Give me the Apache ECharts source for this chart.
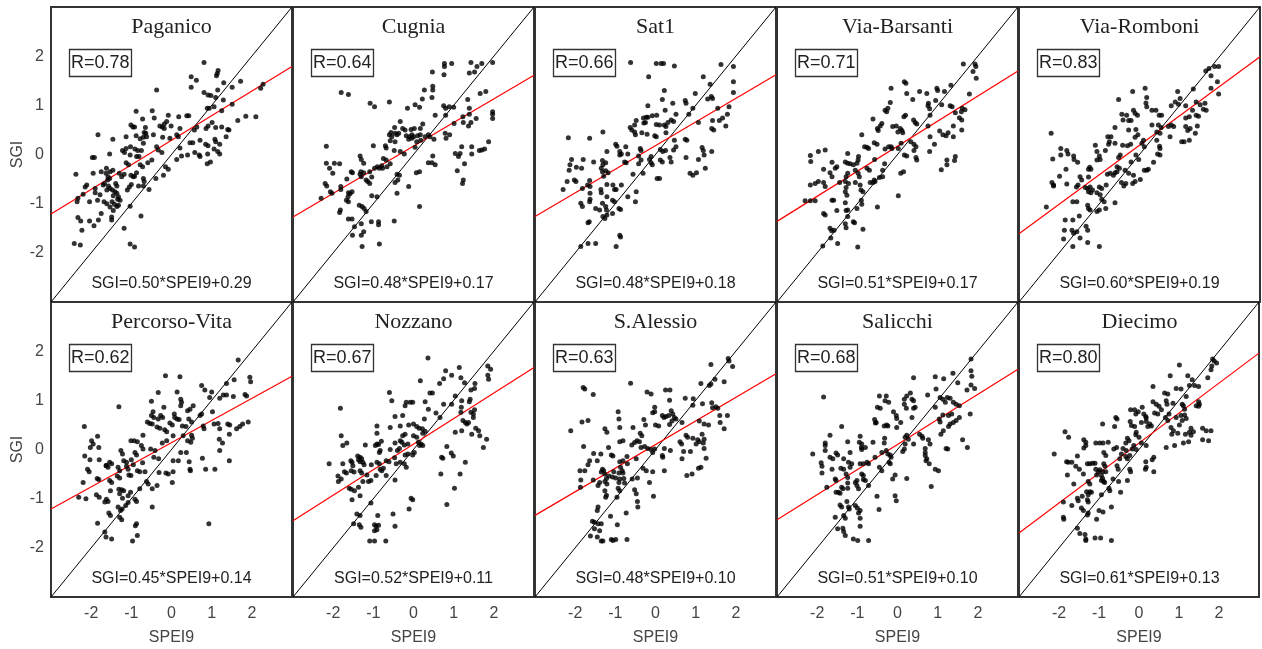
<!DOCTYPE html>
<html>
<head>
<meta charset="utf-8">
<script src="https://cdn.jsdelivr.net/npm/echarts@6/dist/echarts.min.js"></script>
<style>
  html, body { margin: 0; padding: 0; background: #fff; }
  #chart { width: 1262px; height: 649px; }
</style>
</head>
<body>
<div id="chart"></div>
<script>
// station names, correlation and regression coefficients, as printed in each panel
const stations = ['Paganico', 'Cugnia', 'Sat1', 'Via-Barsanti', 'Via-Romboni',
                  'Percorso-Vita', 'Nozzano', 'S.Alessio', 'Salicchi', 'Diecimo'];
const rValues = [0.78, 0.64, 0.66, 0.71, 0.83, 0.62, 0.67, 0.63, 0.68, 0.80];
const slopes = [0.50, 0.48, 0.48, 0.51, 0.60, 0.45, 0.52, 0.48, 0.51, 0.61];
const intercepts = [0.29, 0.17, 0.18, 0.17, 0.19, 0.14, 0.11, 0.10, 0.10, 0.13];

// [SPEI9, SGI] pairs
const paganico = [[0.81,1.87],[1.16,1.71],[1.14,1.65],[1.12,1.60],[0.49,1.58],[0.62,1.51],[1.72,1.49],[1.30,1.46],[2.28,1.43],[2.22,1.35],[0.49,1.37],[1.51,1.37],[-0.37,1.31],[1.15,1.31],[0.81,1.26],[0.91,1.21],[0.98,1.20],[1.10,1.16],[1.29,1.11],[1.51,1.02],[1.06,0.97],[0.94,0.94],[0.89,0.94],[1.25,0.89],[-0.88,0.88],[-0.48,0.89],[-0.08,0.80],[0.38,0.79],[0.43,0.79],[0.18,0.77],[-0.43,0.74],[-0.72,0.72],[1.85,0.78],[2.10,0.77],[1.65,0.69],[-0.12,0.67],[-0.18,0.62],[-0.29,0.58],[-0.23,0.56],[-0.18,0.53],[-1.01,0.60],[-0.96,0.56],[-0.92,0.56],[-0.65,0.55],[-0.68,0.45],[-0.01,0.58],[1.01,0.65],[0.91,0.58],[0.86,0.53],[1.10,0.55],[1.25,0.56],[0.21,0.53],[0.57,0.50],[0.63,0.56],[1.40,0.51],[1.43,0.50],[-1.83,0.40],[-1.13,0.36],[-0.88,0.38],[-0.78,0.32],[-0.64,0.43],[-0.62,0.36],[-0.70,0.35],[-0.45,0.40],[-0.22,0.35],[-0.04,0.33],[0.13,0.40],[0.17,0.36],[1.08,0.31],[1.10,0.26],[1.36,0.36],[-1.46,0.31],[0.71,0.29],[0.46,0.24],[0.53,0.24],[0.85,0.21],[0.91,0.18],[1.20,0.21],[-1.13,0.12],[-1.02,0.16],[-0.91,0.11],[-1.22,0.08],[-1.17,0.04],[-0.84,0.08],[-0.75,0.08],[-0.70,0.23],[-0.37,0.16],[-0.33,0.09],[-0.24,0.04],[0.21,0.13],[0.58,0.04],[0.69,-0.01],[1.06,0.11],[1.15,0.06],[1.20,0.01],[0.90,0.01],[-1.97,-0.06],[-1.92,-0.06],[-1.54,0.01],[-1.03,-0.01],[-0.87,-0.04],[-0.81,-0.04],[-0.49,-0.11],[-0.59,-0.17],[0.13,-0.10],[0.25,-0.03],[0.40,-0.01],[0.71,-0.04],[0.97,-0.15],[0.89,-0.19],[-1.13,-0.17],[-1.07,-0.21],[-0.78,-0.21],[-0.72,-0.25],[-0.15,-0.25],[-0.08,-0.30],[-2.38,-0.40],[-1.95,-0.38],[-1.75,-0.35],[-1.62,-0.28],[-1.63,-0.38],[-1.46,-0.32],[-1.53,-0.35],[-1.30,-0.38],[-1.58,-0.45],[-1.54,-0.49],[-1.59,-0.52],[-1.24,-0.45],[-1.18,-0.40],[-1.01,-0.42],[-0.95,-0.45],[-0.87,-0.37],[-0.92,-0.44],[-0.70,-0.49],[-0.68,-0.55],[-0.20,-0.42],[-0.39,-0.49],[-2.11,-0.62],[-2.15,-0.66],[-1.90,-0.69],[-1.67,-0.59],[-1.70,-0.62],[-1.57,-0.64],[-1.53,-0.69],[-1.47,-0.72],[-1.39,-0.59],[-1.36,-0.64],[-1.61,-0.72],[-1.00,-0.61],[-1.05,-0.66],[-1.10,-0.72],[-0.82,-0.64],[-0.70,-0.64],[-0.56,-0.71],[-1.90,-0.78],[-1.78,-0.82],[-1.41,-0.76],[-1.36,-0.79],[-1.45,-0.84],[-1.32,-0.86],[-1.34,-0.91],[-2.20,-0.81],[-2.33,-0.89],[-2.35,-0.96],[-2.04,-0.96],[-1.84,-0.93],[-1.68,-0.96],[-1.61,-1.00],[-1.48,-0.96],[-1.42,-1.01],[-1.28,-0.93],[-1.32,-1.03],[-1.53,-1.07],[-1.45,-1.14],[-1.36,-1.06],[-1.03,-1.05],[-1.75,-1.20],[-1.49,-1.27],[-1.49,-1.33],[-2.33,-1.28],[-2.26,-1.35],[-2.04,-1.35],[-1.82,-1.33],[-1.93,-1.45],[-2.23,-1.54],[-1.18,-1.50],[-0.76,-1.25],[-2.42,-1.81],[-2.27,-1.84],[-1.03,-1.82],[-0.92,-1.88]];
const cugnia = [[0.77,1.85],[0.95,1.85],[0.77,1.79],[0.76,1.62],[1.43,1.87],[1.58,1.79],[1.70,1.85],[1.97,1.87],[1.39,1.66],[1.52,1.68],[0.47,1.68],[0.48,1.39],[0.48,1.31],[0.27,1.31],[-1.80,1.26],[-1.62,1.22],[1.80,1.28],[1.66,1.24],[0.22,1.13],[0.46,1.16],[-0.60,1.07],[-1.08,1.04],[-0.97,0.97],[1.35,1.12],[0.04,1.01],[0.15,0.96],[-0.15,0.94],[0.75,0.99],[0.80,0.94],[0.89,0.97],[1.00,0.96],[1.39,0.94],[1.97,0.87],[1.97,0.82],[1.97,0.73],[0.54,0.80],[0.80,0.80],[1.23,0.77],[1.39,0.82],[1.56,0.73],[-0.33,0.67],[0.23,0.62],[1.01,0.63],[1.24,0.65],[1.37,0.58],[1.43,0.65],[-0.47,0.55],[-0.27,0.53],[-0.21,0.50],[-0.06,0.51],[0.02,0.53],[0.17,0.53],[-0.56,0.45],[-0.46,0.43],[-0.37,0.43],[-0.60,0.40],[-0.54,0.36],[-0.41,0.40],[-0.18,0.38],[-0.10,0.36],[-0.04,0.40],[0.00,0.36],[0.10,0.38],[0.17,0.40],[0.29,0.36],[0.37,0.40],[0.41,0.36],[0.51,0.31],[0.79,0.43],[0.90,0.40],[0.81,0.33],[-0.12,0.31],[-0.04,0.33],[-0.58,0.28],[-0.46,0.26],[0.08,0.26],[0.18,0.29],[1.87,0.26],[-2.17,0.17],[-1.00,0.18],[-0.70,0.18],[-0.68,0.13],[0.04,0.15],[1.20,0.16],[1.45,0.16],[1.64,0.08],[1.70,0.09],[1.77,0.11],[-1.33,-0.03],[-0.48,0.08],[-0.33,0.06],[1.04,0.02],[1.12,-0.04],[1.16,0.02],[1.45,0.01],[0.48,-0.03],[-1.30,-0.10],[-1.24,-0.18],[-0.75,-0.08],[-0.68,-0.11],[-0.23,0.01],[0.37,-0.17],[0.46,-0.17],[0.54,-0.21],[1.27,-0.19],[-2.17,-0.18],[-1.97,-0.18],[-1.84,-0.19],[-0.79,-0.23],[-0.90,-0.25],[-0.85,-0.28],[-0.77,-0.28],[-0.58,-0.19],[-0.66,-0.25],[-2.09,-0.28],[-2.01,-0.38],[-1.55,-0.35],[-1.52,-0.37],[-1.31,-0.35],[-1.24,-0.37],[-1.09,-0.35],[-0.97,-0.28],[-0.41,-0.40],[-0.35,-0.42],[0.07,-0.37],[0.15,-0.35],[1.09,-0.33],[-1.33,-0.40],[-1.30,-0.45],[-1.18,-0.52],[-1.14,-0.55],[-1.04,-0.46],[-1.09,-0.59],[-1.66,-0.50],[-0.46,-0.57],[-0.39,-0.52],[-2.20,-0.59],[-2.16,-0.64],[-1.81,-0.65],[-2.07,-0.76],[-2.03,-0.79],[-1.62,-0.78],[-1.58,-0.80],[-1.53,-0.76],[-0.12,-0.65],[1.22,-0.59],[1.24,-0.52],[-2.30,-0.89],[-1.81,-0.71],[-1.63,-0.86],[-1.67,-0.93],[-1.62,-0.96],[-1.04,-0.84],[-0.91,-0.86],[-0.41,-0.79],[-1.35,-1.03],[-1.28,-1.06],[-1.23,-1.10],[-1.18,-1.16],[0.15,-1.06],[-1.82,-1.13],[-1.84,-1.18],[-1.62,-1.31],[-1.53,-1.31],[-1.05,-1.37],[-0.87,-1.37],[-0.87,-1.43],[-0.48,-1.35],[-1.47,-1.47],[-1.30,-1.41],[-1.24,-1.57],[-1.52,-1.64],[-1.30,-1.64],[-1.28,-1.87],[-0.85,-1.82]];
const sat1 = [[-0.62,1.87],[0.02,1.85],[0.14,1.85],[0.20,1.85],[0.47,1.80],[1.63,1.83],[1.94,1.79],[-0.17,1.58],[1.19,1.58],[1.94,1.48],[1.36,1.43],[0.22,1.30],[0.99,1.24],[1.94,1.26],[1.30,1.13],[1.39,1.18],[1.42,1.14],[0.17,1.12],[0.43,1.04],[0.74,1.10],[0.76,1.04],[-0.19,0.99],[0.93,0.94],[1.55,0.94],[1.83,0.97],[0.24,0.90],[0.03,0.80],[-0.23,0.76],[-0.30,0.74],[-0.19,0.76],[-0.08,0.79],[0.51,0.82],[0.83,0.82],[1.79,0.82],[1.67,0.74],[1.59,0.69],[-0.48,0.69],[-0.52,0.60],[0.39,0.70],[0.45,0.67],[0.31,0.65],[-0.29,0.64],[-0.25,0.65],[0.02,0.61],[0.10,0.60],[0.22,0.60],[0.26,0.57],[1.07,0.65],[1.42,0.69],[1.40,0.53],[1.45,0.50],[1.75,0.58],[-0.63,0.55],[-0.59,0.50],[-0.52,0.46],[-0.50,0.40],[-0.34,0.44],[-0.21,0.41],[0.02,0.36],[-0.02,0.38],[-2.17,0.34],[-1.64,0.33],[-1.31,0.46],[0.26,0.44],[0.74,0.31],[0.78,0.29],[0.47,0.29],[0.51,0.16],[0.45,0.09],[-0.99,0.21],[-0.96,0.17],[-0.74,0.16],[-0.89,0.06],[-0.85,0.01],[-0.69,0.01],[-0.38,0.12],[-0.36,0.08],[0.12,0.10],[0.18,0.06],[0.25,0.08],[1.16,0.14],[1.19,0.08],[1.40,0.06],[1.21,-0.01],[-1.21,0.06],[-0.42,-0.03],[-0.36,-0.11],[-0.11,-0.04],[-0.15,-0.10],[0.36,-0.06],[0.39,-0.15],[0.76,-0.06],[1.07,-0.10],[-2.09,-0.10],[-1.80,-0.10],[-1.54,-0.15],[-1.32,-0.12],[-1.24,-0.17],[-1.31,-0.21],[-0.89,-0.01],[-0.77,-0.15],[-0.73,-0.17],[0.12,-0.11],[0.17,-0.15],[-2.13,-0.21],[-1.97,-0.26],[-2.15,-0.32],[-1.84,-0.28],[-0.42,-0.19],[-0.11,-0.17],[-0.08,-0.21],[-1.35,-0.28],[-1.32,-0.35],[-1.24,-0.33],[-1.18,-0.37],[-1.29,-0.44],[-0.56,-0.40],[-0.31,-0.38],[0.86,-0.38],[0.93,-0.42],[1.02,-0.37],[1.24,-0.28],[0.04,-0.49],[0.10,-0.49],[-2.20,-0.55],[-2.02,-0.52],[-1.98,-0.55],[-1.64,-0.53],[-1.69,-0.62],[-1.63,-0.65],[-1.21,-0.61],[-1.06,-0.62],[-0.85,-0.62],[-2.30,-0.71],[-1.82,-0.69],[-1.36,-0.71],[-1.35,-0.78],[-1.02,-0.71],[-0.98,-0.71],[-0.48,-0.76],[-0.69,-0.86],[-1.63,-0.79],[-1.63,-0.91],[-1.64,-0.96],[-1.21,-0.86],[-1.86,-0.99],[-1.82,-1.06],[-1.32,-0.99],[-1.24,-1.06],[-1.07,-0.93],[-1.02,-0.96],[-0.91,-1.10],[-0.87,-1.12],[-0.50,-0.96],[-1.49,-1.10],[-1.39,-1.13],[-1.22,-1.13],[-1.31,-1.26],[-1.26,-1.30],[-1.21,-1.23],[-1.07,-1.20],[-1.65,-1.37],[-1.68,-1.39],[-0.89,-1.64],[-0.87,-1.68],[-1.86,-1.87],[-1.68,-1.81],[-1.49,-1.81],[-0.98,-1.87]];
const viaBarsanti = [[1.64,1.84],[1.93,1.84],[1.95,1.79],[1.88,1.69],[1.96,1.55],[0.17,1.48],[0.21,1.45],[0.23,1.24],[0.55,1.28],[-0.16,1.35],[0.98,1.35],[1.00,1.30],[1.33,1.41],[1.17,1.28],[0.73,1.24],[0.77,1.04],[0.76,0.99],[0.80,0.93],[0.81,0.80],[1.79,1.23],[-0.18,1.06],[-0.24,0.94],[-0.31,0.90],[-0.27,0.87],[0.38,1.12],[1.10,1.01],[1.31,0.99],[1.36,0.97],[0.95,1.10],[1.61,0.94],[1.59,0.87],[1.68,0.91],[1.44,0.85],[1.54,0.75],[0.20,0.80],[0.16,0.77],[0.40,0.70],[0.44,0.65],[0.48,0.62],[-0.61,0.72],[-0.39,0.63],[-0.43,0.58],[-0.50,0.53],[-0.48,0.49],[-0.12,0.57],[-0.03,0.58],[0.01,0.46],[0.07,0.53],[0.11,0.49],[0.13,0.44],[1.39,0.58],[0.76,0.58],[1.60,0.70],[1.60,0.50],[1.05,0.48],[1.13,0.40],[1.26,0.44],[1.21,0.38],[1.39,0.36],[-0.89,0.40],[-0.58,0.24],[-0.31,0.11],[-0.22,0.16],[-0.16,0.16],[-0.14,0.12],[-0.82,0.16],[-0.76,0.15],[-0.72,0.12],[-0.51,0.21],[0.02,0.12],[0.09,0.23],[0.33,0.26],[0.41,0.21],[0.46,0.16],[0.81,0.36],[0.92,0.21],[0.80,0.06],[0.41,0.08],[0.46,-0.06],[0.48,-0.11],[0.17,-0.01],[0.23,-0.03],[-2.17,-0.02],[-2.16,-0.14],[-1.97,0.06],[-1.80,0.09],[-1.24,0.02],[-0.97,-0.04],[-0.98,-0.11],[-1.01,-0.18],[-0.57,-0.10],[-1.30,-0.15],[-1.24,-0.18],[-1.18,-0.19],[-1.63,-0.16],[-1.51,-0.25],[-1.55,-0.28],[-1.10,-0.21],[-1.05,-0.32],[-0.76,-0.28],[-0.70,-0.32],[-0.32,-0.19],[-0.37,-0.32],[-1.84,-0.30],[-1.24,-0.38],[-1.28,-0.45],[-1.68,-0.37],[-1.63,-0.45],[-0.98,-0.38],[-0.95,-0.45],[0.15,-0.35],[0.08,-0.38],[-0.45,-0.47],[-0.37,-0.45],[1.09,-0.31],[1.23,-0.21],[1.23,-0.11],[1.44,-0.04],[1.42,-0.12],[-1.44,-0.57],[-1.30,-0.55],[-1.22,-0.59],[-1.28,-0.67],[-1.05,-0.57],[-0.68,-0.57],[-0.61,-0.57],[-0.58,-0.52],[-0.56,-0.55],[-0.93,-0.62],[-2.17,-0.62],[-2.05,-0.59],[-1.97,-0.55],[-1.84,-0.57],[-1.80,-0.65],[-1.30,-0.76],[-1.26,-0.83],[-0.91,-0.72],[-0.86,-0.76],[0.02,-0.84],[-2.30,-0.94],[-2.17,-0.94],[-2.05,-0.94],[-1.63,-0.93],[-1.59,-0.93],[-0.90,-0.93],[-0.89,-1.01],[-1.30,-0.98],[-1.24,-1.13],[-1.28,-1.14],[-1.01,-1.10],[-0.50,-1.07],[-1.84,-1.20],[-1.80,-1.23],[-1.51,-1.14],[-1.24,-1.26],[-1.10,-1.37],[-1.07,-1.39],[-1.30,-1.41],[-1.28,-1.49],[-1.68,-1.50],[-1.64,-1.55],[-1.58,-1.54],[-0.86,-1.52],[-1.66,-1.70],[-1.49,-1.81],[-1.86,-1.86],[-0.99,-1.88]];
const viaRomboni = [[1.65,1.70],[1.73,1.75],[1.87,1.79],[1.97,1.79],[1.78,1.60],[1.94,1.48],[1.34,1.33],[1.78,1.35],[1.97,1.23],[0.14,1.35],[-0.17,1.28],[0.95,1.28],[1.01,1.14],[0.89,1.07],[0.79,0.99],[0.97,1.02],[-0.52,1.12],[0.18,1.16],[0.16,1.05],[0.18,0.97],[-0.15,0.90],[-0.11,0.84],[-0.05,0.80],[-0.44,0.82],[-0.32,0.80],[-0.41,0.70],[-0.27,0.69],[-0.21,0.69],[0.31,0.90],[0.41,0.90],[0.49,0.80],[0.55,0.80],[1.15,0.99],[1.41,1.07],[1.51,1.01],[1.63,1.04],[1.66,0.90],[1.59,0.92],[1.32,0.90],[1.41,0.80],[1.47,0.78],[1.24,0.77],[1.15,0.74],[-0.61,0.55],[-0.09,0.51],[-0.27,0.50],[0.31,0.60],[0.47,0.60],[0.54,0.55],[0.43,0.46],[0.51,0.43],[0.72,0.57],[0.79,0.60],[0.85,0.57],[1.15,0.57],[1.20,0.49],[1.26,0.53],[1.39,0.43],[1.44,0.58],[-2.20,0.43],[0.76,0.36],[-0.79,0.36],[-0.71,0.36],[-0.11,0.35],[-0.04,0.40],[1.05,0.26],[1.11,0.26],[1.24,0.29],[-0.75,0.26],[-0.77,0.21],[-0.61,0.23],[-0.42,0.19],[-0.30,0.18],[-0.22,0.21],[-1.10,0.19],[0.10,0.29],[0.06,0.23],[0.12,0.16],[0.43,0.29],[0.50,0.17],[0.51,0.12],[0.45,0.01],[0.51,-0.01],[-1.96,0.12],[-1.81,0.08],[-1.78,0.01],[-1.96,-0.01],[-2.16,-0.09],[-1.64,-0.03],[-1.63,-0.10],[-1.06,0.06],[-0.85,0.08],[-1.00,-0.03],[-0.98,-0.10],[-1.06,-0.11],[-1.54,-0.16],[-0.48,-0.01],[-0.52,-0.06],[-0.09,-0.01],[-0.02,-0.10],[-0.21,-0.15],[0.35,-0.16],[0.12,-0.32],[0.18,-0.32],[0.22,-0.30],[-1.24,-0.26],[-1.27,-0.30],[-1.21,-0.30],[-0.56,-0.25],[-0.50,-0.28],[-0.56,-0.35],[-0.61,-0.37],[-0.36,-0.32],[-0.27,-0.38],[-1.99,-0.44],[-1.83,-0.30],[-1.48,-0.45],[-1.44,-0.52],[-1.27,-0.46],[-0.80,-0.40],[-0.73,-0.38],[-0.65,-0.42],[-0.15,-0.42],[0.02,-0.51],[-0.11,-0.55],[-0.17,-0.59],[-0.45,-0.57],[-0.34,-0.59],[-0.39,-0.64],[-2.18,-0.57],[-2.14,-0.62],[-2.14,-0.64],[-1.81,-0.60],[-1.57,-0.66],[-1.53,-0.62],[-1.35,-0.67],[-1.29,-0.69],[-1.23,-0.66],[-1.17,-0.72],[-1.27,-0.76],[-1.00,-0.66],[-0.94,-0.69],[-0.83,-0.62],[-1.21,-0.78],[-1.06,-0.78],[-0.98,-0.82],[-0.61,-0.98],[-2.32,-1.07],[-1.66,-0.96],[-1.56,-0.96],[-1.29,-1.03],[-1.27,-1.10],[-1.23,-1.13],[-0.94,-0.91],[-0.88,-0.96],[-0.84,-1.10],[-1.06,-1.16],[-1.00,-1.13],[-1.50,-1.25],[-1.85,-1.33],[-1.66,-1.33],[-1.33,-1.46],[-1.29,-1.54],[-1.87,-1.54],[-1.68,-1.54],[-1.64,-1.60],[-1.56,-1.57],[-1.89,-1.72],[-1.48,-1.70],[-1.66,-1.87],[-1.29,-1.79],[-1.00,-1.87]];
const percorsoVita = [[1.66,1.82],[-0.15,1.50],[0.21,1.48],[1.95,1.47],[1.97,1.38],[1.56,1.42],[1.37,1.34],[0.75,1.30],[0.83,1.21],[1.00,1.17],[-0.33,1.16],[0.14,1.17],[0.23,1.02],[0.25,0.96],[0.23,0.89],[1.29,1.11],[1.37,1.11],[1.54,1.08],[1.83,1.12],[1.87,1.09],[-0.50,0.98],[0.95,1.06],[1.20,1.04],[-1.31,0.87],[-0.19,0.86],[-0.27,0.69],[-0.22,0.65],[0.54,0.89],[0.46,0.82],[0.40,0.79],[0.75,0.72],[0.71,0.69],[1.02,0.77],[-0.46,0.77],[-0.50,0.69],[-0.44,0.65],[0.07,0.72],[0.08,0.65],[-0.33,0.62],[-0.04,0.54],[0.02,0.50],[-0.60,0.56],[-0.54,0.53],[-0.48,0.52],[0.14,0.62],[0.19,0.61],[0.43,0.62],[0.50,0.56],[0.27,0.48],[0.36,0.47],[0.79,0.48],[0.81,0.42],[1.91,0.56],[1.77,0.52],[-0.36,0.46],[-0.29,0.43],[-0.17,0.40],[-0.12,0.36],[1.06,0.52],[1.16,0.53],[1.20,0.42],[1.40,0.52],[1.45,0.50],[1.62,0.42],[1.70,0.47],[-2.17,0.47],[-0.71,0.29],[0.04,0.28],[0.29,0.28],[0.50,0.29],[0.52,0.23],[1.44,0.31],[-1.84,0.27],[-1.99,0.18],[-1.95,0.11],[-1.01,0.18],[-0.93,0.18],[-0.85,0.16],[0.40,0.18],[0.48,0.15],[1.19,0.21],[1.27,0.13],[-0.23,0.13],[-0.12,0.18],[-2.02,0.04],[-1.81,0.04],[-0.75,0.08],[-0.71,0.01],[-0.52,0.01],[-0.41,-0.02],[-1.26,-0.02],[-1.22,-0.09],[-0.91,-0.06],[-0.87,-0.11],[0.23,-0.06],[0.37,-0.06],[1.20,-0.02],[-2.16,-0.13],[-1.80,-0.21],[-2.03,-0.21],[-1.54,-0.26],[-1.49,-0.29],[-1.62,-0.32],[-1.63,-0.33],[-1.58,-0.36],[-1.19,-0.23],[-1.12,-0.26],[-1.00,-0.21],[-0.95,-0.31],[-0.72,-0.27],[-0.44,-0.16],[-0.32,-0.19],[0.04,-0.23],[0.17,-0.23],[0.77,-0.18],[0.44,-0.25],[1.44,-0.23],[-2.09,-0.40],[-2.05,-0.45],[-1.33,-0.36],[-1.29,-0.43],[-1.12,-0.34],[-1.08,-0.40],[-0.85,-0.43],[-0.79,-0.45],[-0.66,-0.45],[-0.31,-0.47],[-0.14,-0.48],[-0.08,-0.50],[0.04,-0.45],[0.46,-0.40],[0.47,-0.43],[1.08,-0.40],[-1.06,-0.52],[-1.01,-0.53],[-1.35,-0.54],[-1.29,-0.58],[-1.85,-0.59],[-1.81,-0.61],[-1.54,-0.63],[-1.49,-0.67],[-2.20,-0.67],[-0.62,-0.65],[-0.58,-0.70],[-0.36,-0.73],[-0.48,-0.80],[0.02,-0.67],[-1.31,-0.81],[-1.24,-0.82],[-1.19,-0.84],[-1.52,-0.84],[-0.79,-0.80],[-1.02,-0.87],[-1.08,-0.94],[-1.87,-0.92],[-1.80,-0.97],[-2.31,-0.97],[-2.13,-1.00],[-1.62,-1.01],[-1.58,-1.06],[-1.66,-1.07],[-1.29,-0.90],[-1.22,-0.99],[-0.91,-1.01],[-0.87,-1.06],[-1.08,-1.08],[-1.33,-1.17],[-1.27,-1.24],[-1.23,-1.21],[-1.14,-1.14],[-0.48,-1.17],[-1.56,-1.29],[-1.52,-1.34],[-1.29,-1.38],[-1.24,-1.43],[0.85,-0.40],[-1.84,-1.50],[-0.87,-1.51],[-0.90,-1.55],[0.93,-1.51],[-1.66,-1.68],[-1.63,-1.78],[-1.49,-1.82],[-0.97,-1.86],[-0.85,-1.75]];
const nozzano = [[0.36,1.86],[1.85,1.70],[1.92,1.63],[1.85,1.51],[1.87,1.43],[0.80,1.60],[0.95,1.51],[1.14,1.67],[1.18,1.46],[0.75,1.44],[0.65,1.34],[0.17,1.40],[1.27,1.36],[1.53,1.34],[1.52,1.24],[-0.60,1.16],[-0.54,0.99],[0.41,1.15],[0.47,1.15],[1.04,1.09],[1.43,1.21],[1.41,1.02],[1.39,0.97],[-1.82,0.84],[-0.21,0.89],[-0.18,0.96],[-0.08,0.96],[-0.02,0.96],[0.29,0.97],[1.20,0.99],[0.75,0.92],[0.95,0.92],[0.37,0.82],[0.56,0.74],[1.19,0.86],[1.18,0.76],[1.43,0.76],[1.49,0.72],[1.52,0.81],[-0.46,0.67],[-0.27,0.69],[0.27,0.62],[0.66,0.65],[1.23,0.59],[1.29,0.55],[1.33,0.52],[1.37,0.55],[1.49,0.65],[-0.91,0.48],[-0.91,0.33],[-0.58,0.45],[-0.33,0.48],[-0.12,0.50],[0.00,0.52],[0.08,0.47],[0.14,0.43],[0.22,0.42],[0.29,0.37],[0.23,0.33],[1.04,0.35],[1.20,0.38],[1.55,0.43],[1.62,0.38],[1.65,0.28],[1.45,0.31],[1.82,0.21],[1.74,0.04],[-1.80,0.28],[-1.76,0.08],[-1.66,0.13],[-0.80,0.17],[-0.87,0.10],[-0.27,0.28],[-0.21,0.31],[-0.33,0.18],[-0.29,0.15],[-0.46,0.13],[0.00,0.28],[0.08,0.25],[0.12,0.15],[0.19,0.11],[0.15,0.08],[0.23,0.08],[-1.20,0.09],[-0.95,0.08],[-0.91,0.11],[-0.58,0.00],[-0.40,-0.02],[-0.35,0.02],[-0.23,0.09],[-0.14,0.11],[0.83,0.06],[-0.83,-0.02],[-0.85,-0.06],[0.02,-0.06],[-0.02,-0.11],[-1.39,-0.13],[-1.33,-0.16],[-1.29,-0.19],[-0.21,-0.11],[-0.14,-0.09],[0.70,-0.16],[0.73,-0.18],[0.94,-0.07],[0.99,-0.13],[-2.10,-0.29],[-1.76,-0.29],[-1.56,-0.23],[-1.53,-0.26],[-1.51,-0.33],[-1.37,-0.21],[-1.33,-0.25],[-1.26,-0.26],[-1.23,-0.31],[-1.05,-0.31],[-0.91,-0.26],[-0.85,-0.29],[-0.68,-0.23],[-0.61,-0.25],[-0.47,-0.17],[-0.43,-0.29],[-0.33,-0.26],[-0.23,-0.29],[-0.18,-0.36],[1.29,-0.26],[-1.55,-0.43],[-1.48,-0.46],[-1.33,-0.43],[-1.29,-0.48],[-1.72,-0.45],[-1.67,-0.48],[-1.16,-0.52],[-0.83,-0.40],[-0.79,-0.43],[-0.75,-0.38],[-0.93,-0.53],[-1.88,-0.54],[-1.80,-0.60],[-1.87,-0.65],[-1.26,-0.65],[-1.12,-0.65],[-1.06,-0.63],[-0.68,-0.53],[-0.46,-0.62],[0.68,-0.50],[1.16,-0.50],[-1.60,-0.79],[-1.55,-0.81],[-1.47,-0.84],[-1.37,-0.77],[1.02,-0.79],[-1.53,-1.02],[-1.33,-0.94],[-0.06,-0.99],[-0.02,-1.02],[-0.11,-1.21],[-1.06,-1.09],[0.83,-1.12],[-1.41,-1.31],[-1.33,-1.34],[-0.89,-1.34],[-0.51,-1.31],[-1.49,-1.51],[-1.35,-1.53],[-1.31,-1.58],[-0.97,-1.53],[-0.93,-1.56],[-0.87,-1.54],[-0.46,-1.56],[-0.97,-1.65],[-0.91,-1.63],[-1.09,-1.86],[-0.97,-1.86],[-0.69,-1.86]];
const sAlessio = [[1.81,1.85],[1.83,1.80],[1.92,1.69],[1.38,1.73],[1.48,1.43],[1.38,1.33],[1.34,1.30],[1.71,1.38],[1.13,1.34],[-1.80,1.26],[-1.76,1.23],[-0.62,1.35],[-1.55,1.12],[-0.21,1.17],[-0.11,1.13],[0.25,1.21],[0.36,1.21],[0.35,1.00],[0.74,1.04],[0.94,1.03],[0.93,0.90],[1.17,0.93],[1.40,0.95],[1.42,0.85],[1.50,0.87],[1.55,0.84],[-0.02,0.86],[-0.02,0.77],[-0.07,0.75],[0.39,0.79],[0.43,0.72],[-0.93,0.77],[-0.91,0.62],[0.17,0.69],[0.21,0.65],[0.26,0.67],[0.33,0.69],[0.47,0.65],[0.51,0.62],[0.41,0.58],[0.35,0.51],[-1.83,0.56],[-1.68,0.59],[-0.29,0.61],[-0.25,0.50],[0.00,0.50],[0.08,0.48],[0.66,0.55],[1.09,0.58],[1.21,0.52],[1.32,0.50],[1.61,0.55],[1.79,0.69],[1.60,0.69],[1.71,0.42],[-2.11,0.38],[-1.26,0.42],[-1.21,0.35],[-0.89,0.45],[-0.56,0.45],[-0.38,0.33],[-0.34,0.28],[0.76,0.29],[0.80,0.25],[0.93,0.23],[1.05,0.20],[1.16,0.31],[1.21,0.21],[1.19,0.13],[1.09,0.16],[-0.89,0.16],[-0.81,0.18],[-0.52,0.14],[-0.46,0.18],[-0.40,0.16],[-0.59,0.09],[0.61,0.16],[0.65,0.11],[-1.79,0.06],[-1.17,0.04],[-0.36,0.04],[-0.27,0.06],[-0.19,0.02],[-0.11,0.00],[-0.02,0.01],[-0.07,-0.06],[0.70,-0.04],[0.87,-0.04],[1.01,0.11],[1.21,0.02],[0.22,0.02],[0.37,-0.02],[-1.54,-0.08],[-1.36,-0.09],[-1.10,-0.11],[-1.06,-0.13],[-0.71,-0.14],[0.17,-0.12],[0.18,-0.16],[1.26,-0.18],[-0.48,-0.19],[0.66,-0.19],[-1.64,-0.23],[-1.45,-0.23],[-1.68,-0.31],[-0.89,-0.25],[-0.81,-0.23],[-0.70,-0.29],[1.07,-0.38],[1.13,-0.36],[-1.88,-0.43],[-1.76,-0.43],[-1.32,-0.40],[-1.29,-0.43],[-1.35,-0.46],[-1.26,-0.50],[-1.04,-0.45],[-0.87,-0.36],[-0.83,-0.43],[-0.91,-0.48],[-0.81,-0.48],[-0.31,-0.38],[-0.23,-0.43],[-0.07,-0.45],[0.22,-0.43],[0.78,-0.53],[0.91,-0.50],[-1.16,-0.54],[-1.22,-0.59],[-1.07,-0.56],[-0.99,-0.58],[-0.89,-0.60],[-0.91,-0.67],[-0.79,-0.59],[-0.45,-0.58],[-1.86,-0.62],[-1.87,-0.77],[-1.55,-0.62],[-1.39,-0.67],[-1.43,-0.73],[-1.26,-0.65],[-1.21,-0.70],[-0.77,-0.68],[-0.58,-0.60],[-0.15,-0.67],[-1.26,-0.84],[-1.22,-0.93],[-1.24,-0.97],[-0.93,-0.79],[-0.89,-0.84],[-0.96,-0.97],[-0.52,-0.82],[-0.48,-0.90],[-0.45,-1.06],[-0.44,-1.17],[-0.05,-0.95],[-1.43,-1.17],[-1.45,-1.24],[-0.73,-1.29],[-1.12,-1.36],[-1.57,-1.46],[-1.52,-1.48],[-1.43,-1.51],[-1.35,-1.51],[-0.95,-1.53],[-1.52,-1.61],[-1.39,-1.65],[-1.62,-1.76],[-1.45,-1.78],[-1.35,-1.86],[-1.31,-1.86],[-1.10,-1.83],[-1.06,-1.85],[-0.99,-1.83],[-0.71,-1.83]];
const salicchi = [[1.83,1.84],[1.38,1.55],[1.15,1.44],[0.94,1.48],[1.83,1.60],[1.85,1.49],[0.40,1.46],[1.50,1.36],[1.92,1.24],[1.73,1.21],[1.83,1.31],[0.96,1.23],[0.75,1.11],[-1.84,1.07],[-0.45,1.09],[-0.28,1.09],[-0.31,0.99],[-0.22,0.96],[0.17,1.02],[0.23,1.09],[0.32,1.15],[0.36,1.02],[0.40,0.99],[1.06,1.06],[1.13,1.02],[1.24,1.06],[1.31,1.04],[1.19,0.96],[1.39,0.96],[1.46,0.92],[1.54,0.89],[0.17,0.92],[0.22,0.84],[0.40,0.84],[0.44,0.86],[-0.50,0.86],[-0.43,0.84],[-0.10,0.77],[0.94,0.86],[1.13,0.70],[1.27,0.69],[1.35,0.72],[1.81,0.72],[1.54,0.65],[-0.03,0.69],[-0.02,0.63],[0.36,0.65],[-0.57,0.61],[-0.53,0.55],[-0.55,0.54],[1.04,0.62],[1.06,0.56],[1.46,0.59],[1.39,0.55],[1.31,0.52],[1.27,0.47],[-1.39,0.47],[-0.33,0.48],[-0.27,0.50],[-0.24,0.48],[-0.02,0.45],[0.08,0.55],[1.08,0.31],[1.14,0.38],[-1.68,0.29],[-0.93,0.27],[0.55,0.31],[0.61,0.27],[0.63,0.23],[0.23,0.29],[0.19,0.25],[0.27,0.21],[-1.24,0.16],[-0.95,0.15],[-0.89,0.11],[-0.90,0.04],[-0.61,0.15],[-0.32,0.23],[-0.33,0.13],[0.77,0.20],[0.81,0.11],[1.62,0.20],[-1.80,0.13],[-1.80,0.08],[-1.80,-0.02],[0.19,0.11],[-0.80,0.04],[-0.89,0.00],[0.40,0.11],[0.17,0.01],[0.13,-0.04],[1.74,0.04],[-1.18,-0.06],[-1.53,-0.07],[-1.49,-0.11],[-2.11,-0.09],[-0.39,-0.06],[-0.28,-0.02],[-0.24,-0.09],[-0.18,-0.11],[0.69,0.02],[0.69,-0.06],[1.21,0.02],[1.25,0.01],[-1.68,-0.16],[-1.61,-0.19],[-1.34,-0.19],[-0.56,-0.16],[-0.16,-0.16],[0.69,-0.12],[0.73,-0.19],[0.71,-0.23],[-1.90,-0.27],[-1.88,-0.34],[-1.22,-0.26],[-1.14,-0.29],[-1.18,-0.36],[-0.93,-0.29],[-0.85,-0.29],[-0.76,-0.26],[-0.72,-0.29],[-0.21,-0.26],[-0.18,-0.29],[0.79,-0.29],[-1.63,-0.40],[-1.41,-0.38],[-1.34,-0.40],[-0.45,-0.36],[-0.39,-0.43],[0.94,-0.40],[1.02,-0.43],[-1.88,-0.48],[-1.28,-0.50],[-1.24,-0.57],[-0.89,-0.50],[-0.85,-0.53],[-0.85,-0.61],[-0.80,-0.63],[-1.55,-0.60],[-1.53,-0.63],[-1.01,-0.63],[-1.05,-0.67],[-0.12,-0.60],[-0.06,-0.52],[0.23,-0.59],[-1.76,-0.77],[-1.39,-0.77],[-1.36,-0.80],[-1.24,-0.68],[-1.24,-0.79],[-1.01,-0.73],[-0.97,-0.80],[-0.72,-0.73],[0.84,-0.75],[-1.53,-0.87],[-1.47,-0.87],[-1.43,-0.89],[-0.51,-0.95],[-0.06,-0.94],[-0.03,-1.04],[-1.26,-1.06],[-1.43,-1.13],[-1.39,-1.17],[-1.22,-1.17],[-1.20,-1.21],[-1.05,-1.14],[-1.00,-1.19],[-0.93,-1.24],[-0.97,-1.29],[-0.46,-1.22],[-1.55,-1.38],[-1.34,-1.34],[-1.30,-1.40],[-0.93,-1.40],[-0.93,-1.56],[-1.49,-1.61],[-1.36,-1.60],[-1.34,-1.67],[-1.30,-1.75],[-1.10,-1.82],[-0.99,-1.85],[-0.72,-1.85]];
const diecimo = [[1.84,1.84],[1.88,1.80],[1.94,1.76],[1.82,1.70],[1.01,1.72],[1.22,1.50],[1.80,1.62],[1.72,1.46],[0.78,1.50],[1.33,1.42],[1.39,1.30],[1.49,1.28],[1.26,1.30],[0.35,1.28],[0.93,1.24],[1.05,1.23],[0.64,1.15],[0.72,1.13],[1.18,1.08],[1.49,0.97],[1.51,0.92],[1.43,0.89],[1.49,0.88],[0.35,0.97],[0.43,0.92],[0.50,0.88],[0.56,0.81],[0.68,0.99],[0.70,0.92],[0.85,0.94],[1.08,0.92],[1.11,0.89],[1.14,0.82],[-0.21,0.81],[-0.11,0.81],[0.08,0.86],[-0.02,0.77],[-0.08,0.72],[0.12,0.72],[0.17,0.67],[0.39,0.74],[0.47,0.72],[-0.58,0.65],[-0.55,0.62],[0.75,0.72],[0.66,0.65],[0.72,0.59],[0.93,0.65],[1.05,0.69],[1.14,0.70],[1.18,0.63],[1.08,0.59],[1.01,0.50],[-0.22,0.57],[-0.19,0.49],[-0.11,0.47],[0.06,0.55],[0.18,0.57],[0.27,0.52],[0.31,0.48],[0.22,0.47],[-0.91,0.52],[-0.61,0.47],[0.18,0.64],[0.80,0.45],[0.86,0.38],[0.82,0.31],[0.97,0.33],[1.16,0.31],[1.26,0.35],[1.30,0.29],[1.30,0.43],[1.36,0.36],[1.59,0.43],[1.68,0.38],[1.80,0.38],[-1.85,0.36],[-1.76,0.25],[-1.38,0.20],[-1.33,0.15],[-1.08,0.13],[-0.98,0.13],[-0.90,0.13],[-0.77,0.15],[-0.29,0.23],[-0.25,0.18],[-0.33,0.13],[-0.07,0.35],[-0.08,0.30],[0.00,0.25],[0.06,0.13],[0.18,0.08],[1.59,0.20],[1.74,0.18],[0.89,0.08],[1.11,0.13],[1.24,0.16],[0.68,0.04],[-1.33,0.08],[-1.38,0.03],[-0.56,0.04],[-0.63,0.01],[-0.40,0.02],[-0.32,-0.02],[-0.13,0.08],[-0.17,0.01],[-0.07,0.00],[-0.88,-0.06],[-0.83,-0.12],[-2.12,-0.09],[-1.54,-0.13],[-0.44,-0.09],[-0.33,-0.14],[-0.29,-0.19],[-0.48,-0.19],[-0.23,-0.12],[0.37,-0.16],[0.33,-0.21],[-1.81,-0.25],[-1.77,-0.26],[-1.68,-0.26],[-1.29,-0.29],[-1.23,-0.29],[-1.16,-0.28],[-1.10,-0.28],[-0.88,-0.29],[-0.85,-0.34],[-1.58,-0.34],[-1.49,-0.40],[-0.55,-0.33],[-0.52,-0.40],[0.17,-0.25],[0.18,-0.36],[0.16,-0.40],[-1.08,-0.40],[-1.02,-0.45],[-0.98,-0.41],[-0.91,-0.45],[-0.83,-0.45],[0.37,-0.45],[-0.23,-0.40],[-0.21,-0.45],[-1.79,-0.52],[-1.39,-0.50],[-1.06,-0.52],[-0.94,-0.53],[-0.91,-0.59],[-0.88,-0.65],[-0.94,-0.63],[-0.86,-0.67],[-1.27,-0.65],[-1.23,-0.70],[-0.65,-0.60],[-0.29,-0.63],[-1.63,-0.70],[-0.51,-0.65],[-0.75,-0.79],[-0.73,-0.84],[-1.31,-0.86],[-1.23,-0.86],[-1.19,-0.87],[-1.27,-0.92],[-0.94,-0.92],[-0.46,-0.87],[-1.54,-0.99],[-1.52,-1.04],[-1.42,-0.95],[-1.29,-1.02],[-1.27,-1.07],[-1.89,-1.07],[-1.68,-1.14],[-1.44,-1.19],[-1.39,-1.24],[-1.27,-1.29],[-1.29,-1.33],[-1.00,-1.24],[-0.90,-1.27],[-0.69,-1.17],[-1.89,-1.38],[-1.88,-1.42],[-1.06,-1.42],[-1.54,-1.60],[-1.48,-1.71],[-1.35,-1.73],[-1.33,-1.82],[-1.33,-1.85],[-1.10,-1.80],[-0.96,-1.80],[-0.69,-1.85]];

const panelPoints = [paganico, cugnia, sat1, viaBarsanti, viaRomboni,
                     percorsoVita, nozzano, sAlessio, salicchi, diecimo];

// panel layout (pixels)
const colLeft = [51, 293, 535, 777, 1019];
const rowTop = [7, 302];
const panelW = 241;
const panelH = 295;
const AXMIN = -3, AXMAX = 3;

const sans = 'Liberation Sans, Arial, sans-serif';
const serif = 'Liberation Serif, Times New Roman, serif';

const grids = [], xAxes = [], yAxes = [], series = [], titles = [];

stations.forEach(function (name, i) {
    const row = Math.floor(i / 5), col = i % 5;
    const left = colLeft[col], top = rowTop[row];
    const a = slopes[i], b = intercepts[i];

    grids.push({
        left: left, top: top, width: panelW, height: panelH,
        show: true, borderColor: '#333', borderWidth: 2, backgroundColor: '#fff'
    });

    const tickFmt = function (v) { return Math.abs(v) >= 3 ? '' : String(v); };

    xAxes.push({
        gridIndex: i, type: 'value', min: AXMIN, max: AXMAX, interval: 1,
        axisLine: { show: false }, axisTick: { show: false }, splitLine: { show: false },
        axisLabel: { show: row === 1, formatter: tickFmt, margin: 9,
                     fontFamily: sans, fontSize: 16, color: '#444' },
        name: row === 1 ? 'SPEI9' : '', nameLocation: 'middle', nameGap: 33,
        nameTextStyle: { fontFamily: sans, fontSize: 16, color: '#444' }
    });
    yAxes.push({
        gridIndex: i, type: 'value', min: AXMIN, max: AXMAX, interval: 1,
        axisLine: { show: false }, axisTick: { show: false }, splitLine: { show: false },
        axisLabel: { show: col === 0, formatter: tickFmt, margin: 7,
                     fontFamily: sans, fontSize: 16, color: '#444' },
        name: col === 0 ? 'SGI' : '', nameLocation: 'middle', nameGap: 24,
        nameTextStyle: { fontFamily: sans, fontSize: 16, color: '#444' }
    });

    series.push({
        type: 'line', xAxisIndex: i, yAxisIndex: i, silent: true,
        data: [[AXMIN, AXMIN], [AXMAX, AXMAX]], symbol: 'none',
        lineStyle: { color: '#000', width: 1 }, z: 2
    });
    series.push({
        type: 'line', xAxisIndex: i, yAxisIndex: i, silent: true,
        data: [[AXMIN, a * AXMIN + b], [AXMAX, a * AXMAX + b]], symbol: 'none',
        lineStyle: { color: '#ff0000', width: 1.2 }, z: 2
    });
    series.push({
        type: 'scatter', xAxisIndex: i, yAxisIndex: i, silent: true,
        data: panelPoints[i], symbol: 'circle', symbolSize: 5,
        itemStyle: { color: '#000' }, z: 3
    });

    titles.push({
        text: name, left: left + panelW / 2, top: top + 9, textAlign: 'center', padding: 0,
        textStyle: { fontFamily: serif, fontSize: 22, fontWeight: 'normal', color: '#222' }
    });
    titles.push({
        text: 'R=' + rValues[i].toFixed(2), left: left + 18, top: top + 42,
        padding: [4, 2], borderColor: '#333', borderWidth: 1.3,
        textStyle: { fontFamily: sans, fontSize: 18, lineHeight: 20, fontWeight: 'normal', color: '#222' }
    });
    titles.push({
        text: 'SGI=' + a.toFixed(2) + '*SPEI9+' + b.toFixed(2),
        left: left + panelW / 2, top: top + 269, textAlign: 'center', padding: 0,
        textStyle: { fontFamily: sans, fontSize: 16, fontWeight: 'normal', color: '#222' }
    });
});

const chart = echarts.init(document.getElementById('chart'), null, { renderer: 'canvas' });
chart.setOption({
    animation: false,
    backgroundColor: '#fff',
    title: titles,
    grid: grids,
    xAxis: xAxes,
    yAxis: yAxes,
    series: series
});
</script>
</body>
</html>
